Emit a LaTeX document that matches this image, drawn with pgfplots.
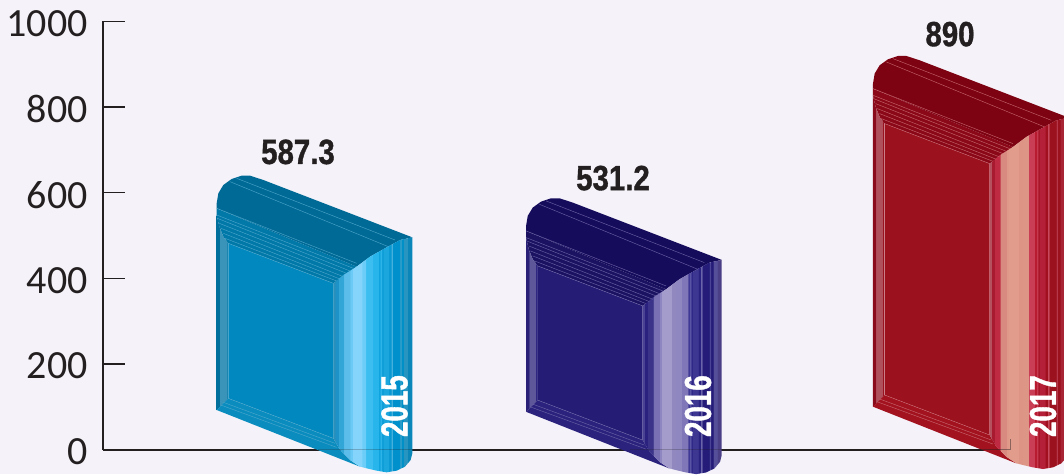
\documentclass[border=0pt]{standalone}
\usepackage{fontspec}
\usepackage{pgfplots}
\usepackage{pgfplotstable}
\pgfplotsset{compat=1.18}
\setmainfont{Carlito}
\newfontfamily\vfont[FakeStretch=0.84,FakeBold=1]{Liberation Sans}
\newfontfamily\yfont[FakeStretch=0.74,FakeBold=1]{Liberation Sans}
\definecolor{bg}{HTML}{F5F3F9}
\definecolor{ink}{HTML}{231F20}
\newcommand\C[2]{\definecolor{#1}{HTML}{#2}}
% 2015
\C{Aa}{2A8FBB}\C{Ab}{1C92C6}\C{Ac}{33A6D8}\C{Ad}{5CBDEA}\C{Ae}{6CCAF6}\C{Af}{85D4FB}\C{Ag}{6CCDF8}\C{Ah}{3CBFF0}\C{Ai}{27B5EC}\C{Aj}{10A4DE}\C{Ak}{2CB4E8}\C{Al}{0F9FD8}\C{Am}{1BA6DE}\C{An}{0A98D2}\C{Ao}{45B0DC}\C{Ap}{0090CC}\C{Aq}{2A9CC9}\C{Ar}{0090C8}\C{As}{2795C0}\C{At}{0A86B8}
\C{Atop}{006A96}\C{Aband}{0078A8}\C{Afront}{0088BF}\C{Abevel}{0A8CBE}\C{Aline}{4FA8CC}\C{Ax}{006F9C}\C{Ay}{3A93B9}\C{Az}{1B85B0}
% 2016
\C{Ba}{4A4393}\C{Bb}{2A227E}\C{Bc}{3A3389}\C{Bd}{7870B2}\C{Be}{8E86C0}\C{Bf}{A49CCB}\C{Bg}{9088BF}\C{Bh}{8F87BF}\C{Bi}{7F77B7}\C{Bj}{3F3895}\C{Bk}{5A54A4}\C{Bl}{2F2888}\C{Bm}{3E3792}\C{Bn}{2A2280}\C{Bo}{6A64AA}\C{Bp}{241C78}\C{Bq}{4A4396}\C{Br}{241C78}\C{Bs}{554E98}\C{Bt}{4A3F86}
\C{Btop}{160C5C}\C{Bband}{1B1262}\C{Bfront}{241C75}\C{Bbevel}{2A227C}\C{Bline}{6F66A8}\C{Bx}{2A2078}\C{By}{5E5799}\C{Bz}{2E2680}
% 2017
\C{Ca}{B5505F}\C{Cb}{A81A30}\C{Cc}{BE2A42}\C{Cd}{D88A80}\C{Ce}{E09888}\C{Cf}{E29C8C}\C{Cg}{DE9484}\C{Ch}{DD9585}\C{Ci}{C93E54}\C{Cj}{B81A30}\C{Ck}{C63A50}\C{Cl}{A8162A}\C{Cm}{B42038}\C{Cn}{A0101F}\C{Co}{C64A5C}\C{Cp}{9C111E}\C{Cq}{B5384A}\C{Cr}{9C111E}\C{Cs}{A82535}\C{Ct}{9C111E}
\C{Ctop}{7D0212}\C{Cband}{8A0818}\C{Cfront}{9C111E}\C{Cbevel}{A2121F}\C{Cline}{C86A72}\C{Cx}{8A0C1C}\C{Cy}{B0505C}\C{Cz}{98121F}
% a path's box fills the middle of a shading, 25bp to 75bp
\newcommand\mkshade[1]{%
\pgfdeclarehorizontalshading{face#1}{100bp}{color(0bp)=(#1a);color(26bp)=(#1a);color(26.15bp)=(#1b);color(28bp)=(#1b);color(28.15bp)=(#1c);color(31.5bp)=(#1c);color(31.65bp)=(#1d);color(35.5bp)=(#1d);color(35.65bp)=(#1e);color(37bp)=(#1e);color(37.15bp)=(#1f);color(43bp)=(#1f);color(43.15bp)=(#1g);color(45.5bp)=(#1g);color(45.65bp)=(#1h);color(49.5bp)=(#1h);color(49.65bp)=(#1i);color(53.5bp)=(#1i);color(53.65bp)=(#1j);color(54.5bp)=(#1j);color(54.65bp)=(#1k);color(55.5bp)=(#1k);color(55.65bp)=(#1l);color(56.5bp)=(#1l);color(56.65bp)=(#1m);color(60bp)=(#1m);color(60.15bp)=(#1n);color(61.5bp)=(#1n);color(61.65bp)=(#1o);color(62.5bp)=(#1o);color(62.65bp)=(#1p);color(67bp)=(#1p);color(67.15bp)=(#1q);color(68bp)=(#1q);color(68.15bp)=(#1r);color(69.5bp)=(#1r);color(69.65bp)=(#1s);color(72bp)=(#1s);color(72.15bp)=(#1t);color(100bp)=(#1t)}%
\pgfdeclarehorizontalshading{side#1}{100bp}{color(0bp)=(#1x);color(37bp)=(#1x);color(38bp)=(#1y);color(65bp)=(#1y);color(66bp)=(#1z);color(100bp)=(#1z)}%
}
\mkshade{A}\mkshade{B}\mkshade{C}
% Shape outlines (k=0 follows the top of a bar, k=1 its foot)
\pgfplotstableread{
x y k
50 145 0
50 130 0
55 100 0
70 75 0
95 57 0
125 47 0
150 47 0
190 60 0
637 232 0
600 240 0
560 262 0
510 290 0
470 320 0
}\tTop
\pgfplotstableread{
x y k
50 145 0
50 165 0
58 200 0
70 230 0
85 250 0
400 370 0
470 320 0
}\tBand
\pgfplotstableread{
x y k
50 165 0
58 200 0
70 230 0
85 250 0
85 715 1
50 750 1
}\tSide
\pgfplotstableread{
x y k
85 250 0
400 370 0
400 835 1
85 715 1
}\tFront
\pgfplotstableread{
x y k
50 750 1
85 715 1
400 835 1
420 870 1
450 900 1
480 920 1
}\tBevel
\pgfplotstableread{
x y k
400 370 0
430 345 0
470 320 0
510 290 0
560 262 0
600 240 0
637 232 0
637 880 1
632 900 1
615 920 1
590 932 1
560 937 1
530 932 1
500 925 1
480 920 1
450 900 1
420 870 1
400 835 1
}\tRight
\pgfplotstableread{
x y k
110 55 0
585 240 0
nan nan 0
90 65 0
565 260 0
nan nan 0
50 145 0
470 310 0
nan nan 0
50 165 0
460 325 0
nan nan 0
52 175 0
450 333 0
nan nan 0
58 190 0
440 340 0
nan nan 0
63 205 0
430 350 0
nan nan 0
70 220 0
420 357 0
nan nan 0
75 235 0
410 363 0
nan nan 0
85 250 0
400 370 0
nan nan 0
85 250 0
85 715 1
nan nan 0
400 370 0
400 835 1
nan nan 0
85 715 1
400 835 1
nan nan 0
70 727 1
405 850 1
nan nan 0
62 735 1
410 862 1
}\tLines
\newcommand\poly[5]{\addplot[#1] table[x expr={200+\thisrow{x}/3+#3}, y expr={(449.7-(160+\thisrow{y}/3+\thisrow{k}*(#5)+(1-\thisrow{k})*(#4)))*2.3343}] {#2} -- cycle;}
\newcommand\wires[5]{\addplot[#1,unbounded coords=jump] table[x expr={200+\thisrow{x}/3+#3}, y expr={(449.7-(160+\thisrow{y}/3+\thisrow{k}*(#5)+(1-\thisrow{k})*(#4)))*2.3343}] {#2};}
\newcommand\onebar[4]{%
\poly{draw=none,fill=#1top}{\tTop}{#2}{#3}{#4}
\poly{draw=none,fill=#1band}{\tBand}{#2}{#3}{#4}
\poly{draw=none,shading=side#1}{\tSide}{#2}{#3}{#4}
\poly{draw=none,fill=#1front}{\tFront}{#2}{#3}{#4}
\poly{draw=none,fill=#1bevel}{\tBevel}{#2}{#3}{#4}
\poly{draw=none,shading=face#1}{\tRight}{#2}{#3}{#4}
\wires{#1line,line width=0.4pt}{\tLines}{#2}{#3}{#4}
}
\begin{document}
\begin{tikzpicture}[x=1pt,y=1pt]
\path[use as bounding box,clip] (0,0) rectangle (1064,474);
\fill[bg] (0,0) rectangle (1064,474);
\begin{axis}[
  at={(103pt,24.3pt)},anchor=south west,
  scale only axis,width=907pt,height=428.4pt,
  xmin=103,xmax=1010,ymin=0,ymax=1000,
  clip=false,
  axis x line*=bottom,axis y line*=left,
  axis line style={ink,line width=1.6pt},
  tick align=inside,
  xtick={103,1010},xticklabels={},
  ytick={0,200,400,600,800,1000},
  xtick style={ink,line width=1.2pt,/pgfplots/major tick length=11pt},
  ytick style={ink,line width=1.2pt,/pgfplots/major tick length=22pt},
  /pgf/number format/assume math mode=true,
  /pgf/number format/1000 sep={},
  yticklabel style={font=\fontsize{40}{40}\selectfont,text=ink,inner sep=0pt,xshift=-15pt,yshift=-2pt},
]
\onebar{A}{0}{0}{0}
\onebar{B}{309.4}{22.6}{1.8}
\onebar{C}{656.3}{-119.7}{-3.3}
% axis showing faintly through the bars
\addplot[ink,opacity=0.25,line width=1pt] coordinates {(318,0) (412,0)};
\addplot[ink,opacity=0.25,line width=1pt] coordinates {(630,0) (722,0)};
\addplot[ink,opacity=0.45,line width=1pt] coordinates {(975,0) (1010,0) (1010,25)};
% values
\addplot[draw=none,point meta=explicit symbolic,nodes near coords,
  nodes near coords align=center,
  every node near coord/.append style={anchor=center,text=ink,inner sep=0pt,
    font=\vfont\bfseries\fontsize{35}{35}\selectfont}]
  coordinates {(298,695)[587.3] (613,634)[531.2] (950,970)[890]};
% years
\addplot[draw=none,point meta=explicit symbolic,nodes near coords,
  nodes near coords align=center,
  every node near coord/.append style={anchor=center,text=white,inner sep=0pt,rotate=90,
    font=\yfont\bfseries\fontsize{37.5}{37.5}\selectfont}]
  coordinates {(394.5,101.8)[2015] (698,101.8)[2016] (1043,101.8)[2017]};
\end{axis}
\end{tikzpicture}
\end{document}
